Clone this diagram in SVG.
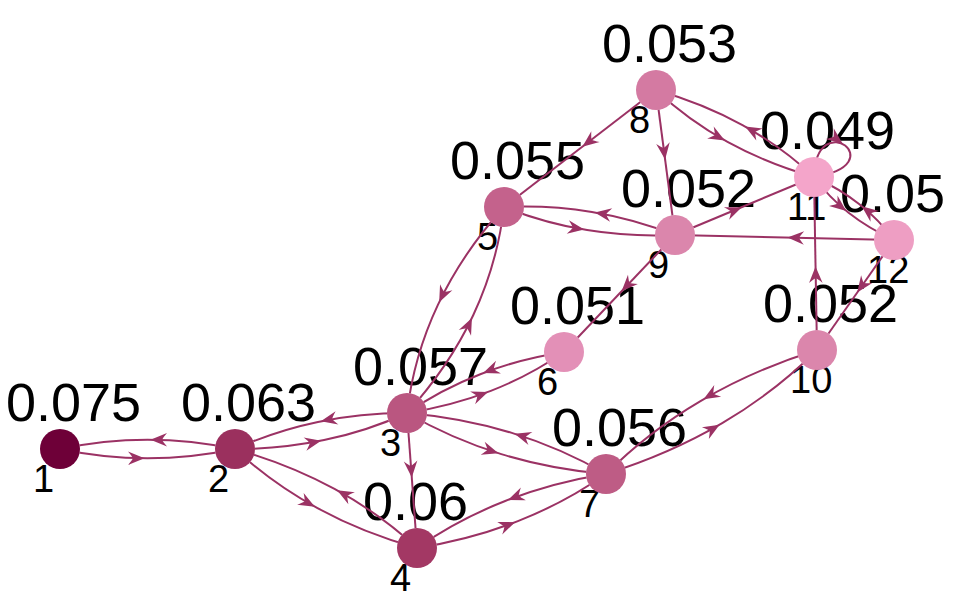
<svg xmlns="http://www.w3.org/2000/svg" width="955" height="601" viewBox="0 0 955 601">
<style>
.v{font-family:"Liberation Sans",Arial,Helvetica,sans-serif;font-size:54px;fill:#000}
.n{font-family:"Liberation Sans",Arial,Helvetica,sans-serif;font-size:38px;fill:#000}
.e{fill:none;stroke:#9b3264;stroke-width:2;marker-mid:url(#a)}
</style>
<defs>
<marker id="a" markerUnits="userSpaceOnUse" orient="auto" refX="0" refY="0" markerWidth="30" markerHeight="30" viewBox="-20 -15 30 30" overflow="visible">
<path d="M-3,0 L-19.5,-6.8 Q-15.5,-2 -14.5,0 Q-15.5,2 -19.5,6.8 Z" fill="#9b3264"/>
</marker>
<mask id="m" maskUnits="userSpaceOnUse" x="0" y="0" width="955" height="601">
<rect width="955" height="601" fill="#fff"/>
<circle cx="60" cy="449" r="20" fill="#000"/>
<circle cx="235" cy="449" r="20" fill="#000"/>
<circle cx="407" cy="413" r="20" fill="#000"/>
<circle cx="417" cy="548" r="20" fill="#000"/>
<circle cx="504" cy="207" r="20" fill="#000"/>
<circle cx="564" cy="352" r="20" fill="#000"/>
<circle cx="606" cy="474" r="20" fill="#000"/>
<circle cx="656" cy="90" r="20" fill="#000"/>
<circle cx="675" cy="235" r="20" fill="#000"/>
<circle cx="817" cy="350" r="20" fill="#000"/>
<circle cx="814" cy="177" r="20" fill="#000"/>
<circle cx="894" cy="240" r="20" fill="#000"/>
</mask>
</defs>
<rect width="955" height="601" fill="#fff"/>
<g id="node1"><text class="v" x="6" y="421">0.075</text><text class="n" x="33" y="492">1</text><circle cx="60" cy="449" r="20" fill="#6e0038"/></g>
<g id="node2"><text class="v" x="181" y="421">0.063</text><text class="n" x="208" y="492">2</text><circle cx="235" cy="449" r="20" fill="#9b305e"/></g>
<g id="node3"><text class="v" x="353" y="385">0.057</text><text class="n" x="380" y="456">3</text><circle cx="407" cy="413" r="20" fill="#ba5680"/></g>
<g id="node4"><text class="v" x="363" y="520">0.06</text><text class="n" x="390" y="591">4</text><circle cx="417" cy="548" r="20" fill="#a33864"/></g>
<g id="node5"><text class="v" x="450" y="179">0.055</text><text class="n" x="477" y="250">5</text><circle cx="504" cy="207" r="20" fill="#c4628c"/></g>
<g id="node6"><text class="v" x="510" y="324">0.051</text><text class="n" x="537" y="395">6</text><circle cx="564" cy="352" r="20" fill="#e390b7"/></g>
<g id="node7"><text class="v" x="552" y="446">0.056</text><text class="n" x="579" y="517">7</text><circle cx="606" cy="474" r="20" fill="#be5c85"/></g>
<g id="node8"><text class="v" x="602" y="62">0.053</text><text class="n" x="629" y="133">8</text><circle cx="656" cy="90" r="20" fill="#d47aa2"/></g>
<g id="node9"><text class="v" x="621" y="207">0.052</text><text class="n" x="648" y="278">9</text><circle cx="675" cy="235" r="20" fill="#db86ac"/></g>
<g id="node10"><text class="v" x="763" y="322">0.052</text><text class="n" x="790" y="393">10</text><circle cx="817" cy="350" r="20" fill="#db86ac"/></g>
<g id="node11"><text class="v" x="760" y="149">0.049</text><text class="n" x="787" y="220">11</text><circle cx="814" cy="177" r="20" fill="#f4a5ca"/></g>
<g id="node12"><text class="v" x="840" y="212">0.05</text><text class="n" x="867" y="283">12</text><circle cx="894" cy="240" r="20" fill="#ee9ec3"/></g>
<g id="edges" mask="url(#m)">
<path class="e" d="M60,449 Q103.8,458.3 147.5,458.3 Q191.3,458.3 235,449"/>
<path class="e" d="M235,449 Q191.3,439.7 147.5,439.7 Q103.8,439.7 60,449"/>
<path class="e" d="M235,449 Q281.1,449.1 324.1,440.1 Q367.1,431.2 407,413"/>
<path class="e" d="M407,413 Q360.9,412.9 317.9,421.9 Q274.9,430.9 235,449"/>
<path class="e" d="M235,449 Q272,483.4 317.5,508.2 Q363,533 417,548"/>
<path class="e" d="M417,548 Q380,513.6 334.5,488.9 Q289,464.1 235,449"/>
<path class="e" d="M407,413 L412,480.5 L417,548"/>
<path class="e" d="M407,413 Q448.9,366.7 473.2,315.2 Q497.4,263.7 504,207"/>
<path class="e" d="M504,207 Q462.1,253.4 437.9,304.9 Q413.6,356.4 407,413"/>
<path class="e" d="M407,413 Q451.5,406.1 490.8,390.9 Q530,375.6 564,352"/>
<path class="e" d="M564,352 Q519.5,358.9 480.3,374.2 Q441,389.4 407,413"/>
<path class="e" d="M407,413 Q451.5,438.8 501.3,454.1 Q551,469.4 606,474"/>
<path class="e" d="M606,474 Q561.5,448.2 511.8,432.9 Q462,417.7 407,413"/>
<path class="e" d="M417,548 Q470.6,539.6 517.9,521.1 Q565.1,502.6 606,474"/>
<path class="e" d="M606,474 Q552.4,482.5 505.2,501 Q457.9,519.5 417,548"/>
<path class="e" d="M504,207 Q544.4,223.1 587.1,230.1 Q629.9,237.1 675,235"/>
<path class="e" d="M675,235 Q634.7,218.9 591.9,211.9 Q549.2,204.9 504,207"/>
<path class="e" d="M656,90 L580,148.5 L504,207"/>
<path class="e" d="M656,90 L665.5,162.5 L675,235"/>
<path class="e" d="M656,90 Q688,120.1 727.5,141.9 Q767,163.6 814,177"/>
<path class="e" d="M814,177 Q782,146.9 742.5,125.1 Q703,103.4 656,90"/>
<path class="e" d="M675,235 L619.5,293.5 L564,352"/>
<path class="e" d="M675,235 L744.5,206 L814,177"/>
<path class="e" d="M894,240 L784.5,237.5 L675,235"/>
<path class="e" d="M814,177 C815,141 835.3,138 845.1,145.5 C855,153 854.5,171 814,177"/>
<path class="e" d="M814,177 Q828.6,197 848.6,212.8 Q868.6,228.5 894,240"/>
<path class="e" d="M894,240 Q879.4,220 859.4,204.3 Q839.4,188.5 814,177"/>
<path class="e" d="M817,350 L815.5,263.5 L814,177"/>
<path class="e" d="M894,240 L855.5,295 L817,350"/>
<path class="e" d="M606,474 Q669.4,454.2 722.2,423.2 Q774.9,392.2 817,350"/>
<path class="e" d="M817,350 Q753.6,369.8 700.9,400.8 Q648.1,431.8 606,474"/>
</g>
</svg>
